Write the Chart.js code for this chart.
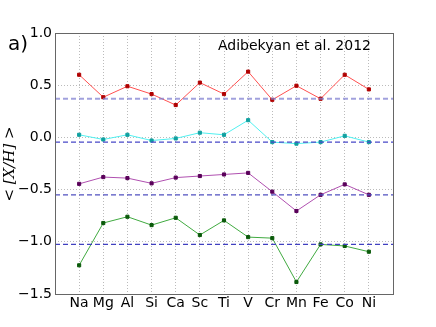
<!DOCTYPE html>
<html>
<head>
<meta charset="utf-8">
<script src="https://cdn.jsdelivr.net/npm/chart.js@4"></script>
<style>
  html, body { margin: 0; padding: 0; background: #fff; }
  #wrap { width: 436px; height: 327px; }
</style>
</head>
<body>
<div id="wrap"><canvas id="chart" width="436" height="327"></canvas></div>
<script>
const elements = ['Na','Mg','Al','Si','Ca','Sc','Ti','V','Cr','Mn','Fe','Co','Ni'];
const yTicks = [-1.5, -1.0, -0.5, 0.0, 0.5, 1.0];

const redVals    = [0.60, 0.385, 0.49, 0.415, 0.31, 0.525, 0.415, 0.63, 0.36, 0.495, 0.37, 0.60, 0.46];
const cyanVals   = [0.025, -0.02, 0.025, -0.03, -0.01, 0.045, 0.025, 0.165, -0.045, -0.06, -0.045, 0.015, -0.045];
const purpleVals = [-0.445, -0.38, -0.39, -0.44, -0.385, -0.37, -0.355, -0.34, -0.52, -0.705, -0.55, -0.45, -0.55];
const greenVals  = [-1.225, -0.82, -0.76, -0.84, -0.77, -0.935, -0.795, -0.955, -0.965, -1.385, -1.025, -1.04, -1.095];

// dashed reference levels ([Fe/H] of each group)
const refLevels = [0.37, -0.045, -0.55, -1.025];

const series = [
  { vals: redVals,    line: '#ff5050', dot: '#b00000' },
  { vals: cyanVals,   line: '#50f0f0', dot: '#10a0a0' },
  { vals: purpleVals, line: '#b050b0', dot: '#5a005a' },
  { vals: greenVals,  line: '#40aa40', dot: '#0a5a0a' }
];
const refStyles = [
  { color: 'rgba(130,130,210,0.75)', width: 2 },
  { color: '#4848c8', width: 1.2 },
  { color: '#5050c0', width: 1.2 },
  { color: '#4040c0', width: 1.2 }
];

const datasets = [];
refLevels.forEach((lv, i) => {
  datasets.push({
    data: [{x: -1, y: lv}, {x: 13, y: lv}],
    borderColor: refStyles[i].color, borderWidth: refStyles[i].width,
    borderDash: [5, 3], pointRadius: 0, fill: false
  });
});
series.forEach(s => {
  datasets.push({
    data: s.vals.map((v, i) => ({x: i, y: v})),
    borderColor: s.line, borderWidth: 1,
    pointBackgroundColor: s.dot, pointBorderColor: s.dot,
    pointRadius: 2.2, pointStyle: 'rect', fill: false
  });
});

const frame = {
  id: 'frame',
  afterDraw(chart) {
    const {ctx, chartArea: a} = chart;
    ctx.save();
    ctx.strokeStyle = '#666';
    ctx.lineWidth = 1;
    ctx.strokeRect(a.left + 0.5, a.top + 0.5, a.right - a.left, a.bottom - a.top);
    ctx.fillStyle = '#000';
    ctx.font = '20px "DejaVu Sans"';
    ctx.textBaseline = 'alphabetic';
    ctx.fillText('a)', 8, 50);
    ctx.font = '14px "DejaVu Sans"';
    ctx.fillText('Adibekyan et al. 2012', 218, 50);
    // y label
    ctx.translate(14, 164);
    ctx.rotate(-Math.PI / 2);
    ctx.textAlign = 'center';
    ctx.font = 'italic 15px "DejaVu Serif"';
    ctx.fillText('< [X/H] >', 0, 0);
    ctx.restore();
  }
};

new Chart(document.getElementById('chart'), {
  type: 'line',
  data: { datasets },
  options: {
    responsive: false, animation: false,
    layout: { padding: { top: 33, right: 43, left: 0, bottom: 0 } },
    plugins: { legend: { display: false }, tooltip: { enabled: false } },
    scales: {
      x: {
        type: 'linear', min: -1, max: 13,
        afterFit: s => { s.height = 33; },
        afterBuildTicks: s => { s.ticks = elements.map((e, i) => ({value: i})); },
        ticks: {
          stepSize: 1, autoSkip: false, maxRotation: 0, padding: 1,
          color: '#000', font: { family: 'DejaVu Sans', size: 14 },
          callback: v => elements[v] || ''
        },
        grid: { color: '#bbb', drawTicks: false },
        border: { display: false, dash: [1, 2] }
      },
      y: {
        min: -1.5, max: 1.0,
        afterFit: s => { s.width = 55; },
        afterBuildTicks: s => { s.ticks = yTicks.map(v => ({value: v})); },
        ticks: {
          padding: 3, color: '#000', font: { family: 'DejaVu Sans', size: 14 },
          callback: v => (v < 0 ? '\u2212' : '') + Math.abs(v).toFixed(1)
        },
        grid: { color: '#bbb', drawTicks: false },
        border: { display: false, dash: [1, 2] }
      }
    }
  },
  plugins: [frame]
});
</script>
</body>
</html>
